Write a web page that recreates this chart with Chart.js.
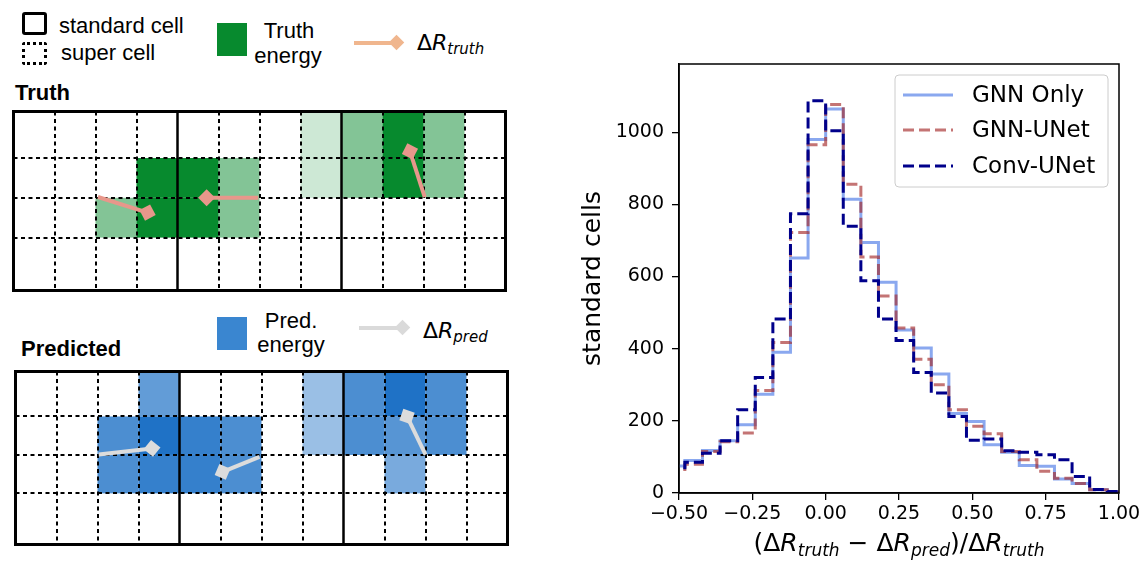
<!DOCTYPE html>
<html>
<head>
<meta charset="utf-8">
<script src="https://cdn.jsdelivr.net/npm/chart.js@4.4.1/dist/chart.umd.min.js"></script>
<style>
  body { margin: 0; background: #fff; width: 1147px; height: 563px; position: relative; overflow: hidden;
         font-family: "Liberation Sans", Arial, sans-serif; color: #000; }
  .abs { position: absolute; }
  .lab { position: absolute; font-size: 22px; line-height: 26px; white-space: nowrap; }
  .ctr { text-align: center; width: 100px; }
  .bold { font-weight: bold; }
  .math { font-family: "DejaVu Sans", sans-serif; }
  .math i { font-style: italic; }
  .math sub { font-size: 68%; vertical-align: -0.28em; line-height: 0; }
  .diamond { position: absolute; width: 11px; height: 11px; transform: rotate(45deg); }
</style>
</head>
<body>

<!-- legend of the schematic -->
<div class="abs" style="left:22px;top:12px;width:25px;height:23px;box-sizing:border-box;border:3.5px solid #000;border-radius:3px;"></div>
<div class="abs" style="left:22px;top:42px;width:25px;height:23px;box-sizing:border-box;border:3px dotted #000;border-radius:3px;"></div>
<div class="lab" style="left:59px;top:13px;">standard cell</div>
<div class="lab" style="left:61px;top:40px;">super cell</div>

<div class="abs" style="left:217px;top:23px;width:30px;height:33px;background:#078a2e;"></div>
<div class="lab ctr" style="left:239px;top:18px;">Truth</div>
<div class="lab ctr" style="left:238px;top:43px;">energy</div>

<div class="abs" style="left:354px;top:41px;width:40px;height:4px;background:#f0b68e;"></div>
<div class="diamond" style="left:391px;top:37px;background:#f0b68e;"></div>
<div class="lab math" style="left:417px;top:30px;">Δ<i>R</i><sub><i>truth</i></sub></div>

<div class="lab bold" style="left:15px;top:80px;">Truth</div>
<div class="lab bold" style="left:21px;top:336px;">Predicted</div>

<div class="abs" style="left:217px;top:317px;width:30px;height:33px;background:#3a86d0;"></div>
<div class="lab ctr" style="left:241px;top:308px;">Pred.</div>
<div class="lab ctr" style="left:241px;top:332px;">energy</div>

<div class="abs" style="left:359px;top:326px;width:40px;height:4px;background:#dadada;"></div>
<div class="diamond" style="left:397px;top:322px;background:#dadada;"></div>
<div class="lab math" style="left:423px;top:318px;">Δ<i>R</i><sub><i>pred</i></sub></div>

<canvas id="truthGrid" class="abs" width="509" height="196" style="left:5px;top:103px;"></canvas>
<canvas id="predGrid" class="abs" width="509" height="190" style="left:7px;top:363px;"></canvas>

<canvas id="hist" class="abs" width="607" height="563" style="left:540px;top:0px;"></canvas>
<div class="lab math" style="left:679px;top:528px;width:440px;text-align:center;font-size:25px;line-height:30px;">(Δ<i>R</i><sub><i>truth</i></sub> − Δ<i>R</i><sub><i>pred</i></sub>)/Δ<i>R</i><sub><i>truth</i></sub></div>

<script>
// ---- histogram data (bin edges of width 0.06, counts per bin) ----
const binEdges = [-0.54, -0.48, -0.42, -0.36, -0.30, -0.24, -0.18, -0.12, -0.06, 0.00, 0.06, 0.12, 0.18,
                  0.24, 0.30, 0.36, 0.42, 0.48, 0.54, 0.60, 0.66, 0.72, 0.78, 0.84, 0.90, 0.96, 1.02];
const gnnOnly  = [75, 90, 118, 145, 189, 274, 390, 651, 980, 1064, 814, 694, 584,
                  452, 402, 330, 220, 198, 134, 113, 76, 74, 39, 26, 9, 3];
const gnnUNet  = [65, 80, 115, 142, 166, 284, 417, 722, 965, 1077, 856, 654, 546,
                  457, 371, 300, 231, 185, 164, 115, 92, 60, 41, 26, 9, 2];
const convUNet = [70, 85, 110, 145, 231, 320, 482, 774, 1087, 1004, 739, 588, 482,
                  423, 334, 277, 212, 146, 150, 117, 113, 106, 92, 46, 10, 4];
const seriesNames = ['GNN Only', 'GNN-UNet', 'Conv-UNet'];
const xTicks = [-0.5, -0.25, 0, 0.25, 0.5, 0.75, 1.0];
const yTicks = [0, 200, 400, 600, 800, 1000];

// ---- schematic data: 12 x 4 super cells, [column, row from top, energy level] ----
const gridCols = 12;
const rowEdges = [0, 1.33, 2.33, 3.33, 4.5];
const solidCols = [4, 8];
const truthCells = [[7,0,0.2],[8,0,0.5],[9,0,1],[10,0,0.5],
                    [3,1,1],[4,1,1],[5,1,0.5],[7,1,0.2],[8,1,0.5],[9,1,1],[10,1,0.5],
                    [2,2,0.5],[3,2,1],[4,2,1],[5,2,0.5]];
const predCells  = [[3,0,0.7],[7,0,0.45],[8,0,0.8],[9,0,1],[10,0,0.8],
                    [2,1,0.8],[3,1,1],[4,1,0.9],[5,1,0.8],[7,1,0.45],[8,1,0.8],[9,1,0.75],[10,1,0.8],
                    [2,2,0.8],[3,2,0.9],[4,2,0.9],[5,2,0.8],[9,2,0.6]];
// [x start, y start, x end, y end] of the delta R segments
const truthArrows = [[2.06,2.35,3.27,1.96],[5.97,2.33,4.71,2.33],[10.03,2.35,9.67,3.50]];
const predArrows  = [[2.03,2.34,3.33,2.50],[5.95,2.28,5.05,1.89],[10.0,2.34,9.55,3.33]];

function toSteps(vals) {
  const pts = vals.map((v, i) => ({ x: binEdges[i], y: v }));
  pts.push({ x: binEdges[binEdges.length - 1], y: vals[vals.length - 1] });
  return pts;
}

// frame on all four sides
const framePlugin = {
  id: 'frame',
  afterDatasetsDraw(chart) {
    const { ctx, chartArea: a } = chart;
    ctx.save();
    ctx.strokeStyle = '#000';
    ctx.lineWidth = 1.5;
    ctx.strokeRect(a.left, a.top, a.right - a.left, a.bottom - a.top);
    ctx.restore();
  }
};

// legend box in the upper right corner
const histLegend = {
  id: 'histLegend',
  afterDraw(chart) {
    const { ctx, chartArea: a } = chart;
    const w = 213, h = 112;
    const x0 = a.right - 11 - w, y0 = a.top + 11;
    ctx.save();
    ctx.beginPath();
    ctx.roundRect(x0, y0, w, h, 4);
    ctx.fillStyle = 'rgba(255,255,255,0.8)';
    ctx.fill();
    ctx.strokeStyle = '#cccccc';
    ctx.lineWidth = 1;
    ctx.stroke();
    const rows = [y0 + 20, y0 + 55, y0 + 91];
    chart.data.datasets.forEach((ds, i) => {
      ctx.beginPath();
      ctx.strokeStyle = ds.borderColor;
      ctx.lineWidth = ds.borderWidth;
      ctx.setLineDash(ds.borderDash || []);
      ctx.moveTo(x0 + 8, rows[i]);
      ctx.lineTo(x0 + 58, rows[i]);
      ctx.stroke();
      ctx.setLineDash([]);
      ctx.fillStyle = '#000';
      ctx.font = '23px "DejaVu Sans"';
      ctx.textBaseline = 'middle';
      ctx.fillText(ds.label, x0 + 77, rows[i] + 1);
    });
    ctx.restore();
  }
};

const fmt = v => v.toFixed(2).replace('-', '\u2212');

new Chart(document.getElementById('hist'), {
  type: 'line',
  data: {
    datasets: [
      { label: seriesNames[0], data: toSteps(gnnOnly), borderColor: '#8aa8ef', borderWidth: 3,
        stepped: 'before', pointRadius: 0, order: 3, clip: 0 },
      { label: seriesNames[1], data: toSteps(gnnUNet), borderColor: 'rgba(165,42,42,0.65)', borderWidth: 3,
        borderDash: [11, 5], stepped: 'before', pointRadius: 0, order: 2, clip: 0 },
      { label: seriesNames[2], data: toSteps(convUNet), borderColor: '#00008b', borderWidth: 3,
        borderDash: [11, 5], stepped: 'before', pointRadius: 0, order: 1, clip: 0 }
    ]
  },
  options: {
    responsive: false,
    animation: false,
    layout: { padding: { left: 0, right: 28, top: 64, bottom: 0 } },
    plugins: { legend: { display: false }, tooltip: { enabled: false } },
    scales: {
      x: {
        type: 'linear', min: -0.5, max: 1.0,
        afterBuildTicks: s => { s.ticks = xTicks.map(v => ({ value: v })); },
        afterFit: s => { s.height = 70; },
        ticks: { callback: v => fmt(v), font: { family: 'DejaVu Sans', size: 19 }, color: '#000',
                 padding: 3, maxRotation: 0, autoSkip: false },
        grid: { display: true, drawOnChartArea: false, drawTicks: true, tickLength: 7, color: '#000', lineWidth: 1.3 },
        border: { display: true, color: '#000', width: 1.5 }
      },
      y: {
        type: 'linear', min: 0, max: 1189,
        afterBuildTicks: s => { s.ticks = yTicks.map(v => ({ value: v })); },
        afterFit: s => { s.width = 139; },
        ticks: { callback: v => String(v), font: { family: 'DejaVu Sans', size: 19 }, color: '#000', padding: 8 },
        grid: { display: true, drawOnChartArea: false, drawTicks: true, tickLength: 7, color: '#000', lineWidth: 1.3 },
        border: { display: true, color: '#000', width: 1.5 },
        title: { display: true, text: 'standard cells', font: { family: 'DejaVu Sans', size: 25 },
                 color: '#000', padding: { top: 38, bottom: 0 } }
      }
    }
  },
  plugins: [framePlugin, histLegend]
});

// ---- schematic grids ----
const cellPlugin = {
  id: 'cells',
  beforeDatasetsDraw(chart, args, opts) {
    const { ctx, scales: { x, y } } = chart;
    const nRows = rowEdges.length - 1;
    ctx.save();
    opts.cells.forEach(([c, r, lvl]) => {
      const x0 = x.getPixelForValue(c), x1 = x.getPixelForValue(c + 1);
      const yt = y.getPixelForValue(rowEdges[nRows - r]), yb = y.getPixelForValue(rowEdges[nRows - r - 1]);
      ctx.fillStyle = `rgba(${opts.base},${lvl})`;
      ctx.fillRect(x0, yt, x1 - x0, yb - yt);
    });
    const L = x.getPixelForValue(0), R = x.getPixelForValue(gridCols);
    const T = y.getPixelForValue(rowEdges[nRows]), B = y.getPixelForValue(0);
    ctx.strokeStyle = '#000';
    ctx.lineWidth = 2;
    ctx.setLineDash([4, 3.5]);
    for (let i = 1; i < nRows; i++) {
      const py = Math.round(y.getPixelForValue(rowEdges[i]));
      ctx.beginPath(); ctx.moveTo(L, py); ctx.lineTo(R, py); ctx.stroke();
    }
    for (let c = 1; c < gridCols; c++) {
      if (solidCols.includes(c)) continue;
      const px = Math.round(x.getPixelForValue(c));
      ctx.beginPath(); ctx.moveTo(px, T); ctx.lineTo(px, B); ctx.stroke();
    }
    ctx.setLineDash([]);
    ctx.lineWidth = 2.5;
    solidCols.forEach(c => {
      const px = x.getPixelForValue(c);
      ctx.beginPath(); ctx.moveTo(px, T); ctx.lineTo(px, B); ctx.stroke();
    });
    ctx.lineWidth = 3;
    ctx.strokeRect(L, T, R - L, B - T);
    ctx.restore();
  }
};

function arrowSets(arrows, color) {
  return arrows.map(([x0, y0, x1, y1]) => ({
    data: [{ x: x0, y: y0 }, { x: x1, y: y1 }],
    showLine: true,
    borderColor: color,
    borderWidth: 4,
    pointRadius: [0, 8.5],
    pointStyle: 'rectRot',
    pointBackgroundColor: color,
    pointBorderWidth: 0,
    pointRotation: ctx => {
      const d = ctx.dataset.data, s = ctx.chart.scales;
      const dx = s.x.getPixelForValue(d[1].x) - s.x.getPixelForValue(d[0].x);
      const dy = s.y.getPixelForValue(d[1].y) - s.y.getPixelForValue(d[0].y);
      return Math.atan2(dy, dx) * 180 / Math.PI;
    },
    clip: false
  }));
}

function gridChart(id, cells, base, arrows, color) {
  new Chart(document.getElementById(id), {
    type: 'scatter',
    data: { datasets: arrowSets(arrows, color) },
    options: {
      responsive: false,
      animation: false,
      layout: { padding: 4 },
      plugins: { legend: { display: false }, tooltip: { enabled: false }, cells: { cells, base } },
      scales: {
        x: { type: 'linear', min: 0, max: gridCols, display: false },
        y: { type: 'linear', min: 0, max: rowEdges[rowEdges.length - 1], display: false }
      }
    },
    plugins: [cellPlugin]
  });
}

gridChart('truthGrid', truthCells, '7,138,46', truthArrows, '#e8978b');
gridChart('predGrid', predCells, '31,114,198', predArrows, '#dcdcdc');
</script>
</body>
</html>
